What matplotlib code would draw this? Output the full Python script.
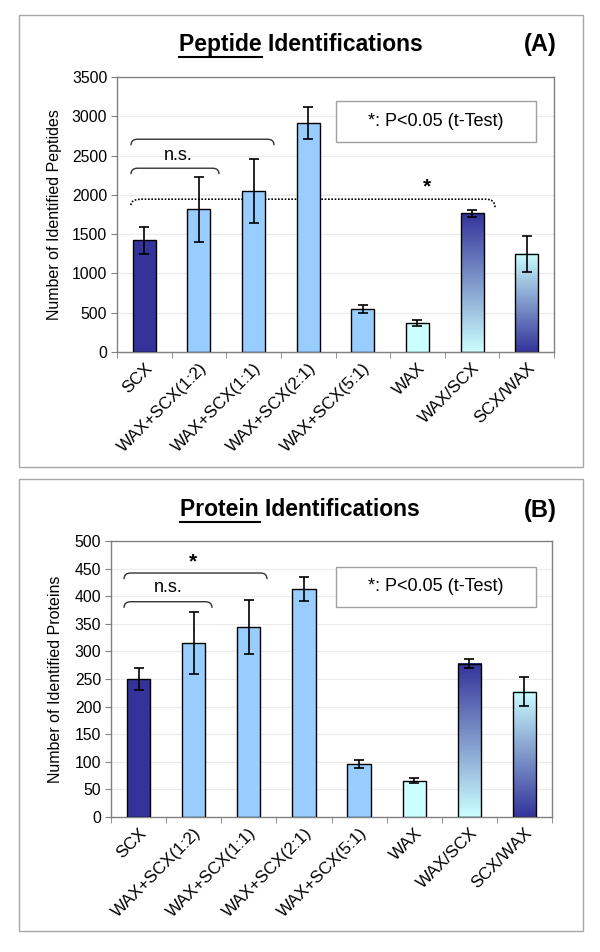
import numpy as np
import matplotlib
matplotlib.use("Agg")
import matplotlib.pyplot as plt
from matplotlib.colors import LinearSegmentedColormap
from matplotlib.path import Path
from matplotlib.patches import PathPatch, Rectangle

plt.rcParams['font.family'] = ['Liberation Sans', 'DejaVu Sans']

categories = ["SCX", "WAX+SCX(1:2)", "WAX+SCX(1:1)", "WAX+SCX(2:1)",
              "WAX+SCX(5:1)", "WAX", "WAX/SCX", "SCX/WAX"]
peptide_means = [1420, 1815, 2045, 2915, 545, 375, 1765, 1250]
peptide_err = [170, 410, 405, 205, 48, 38, 47, 230]
protein_means = [250, 315, 345, 413, 96, 66, 278, 227]
protein_err = [20, 56, 49, 21, 7, 5, 8, 26]
peptide_ticks = [0, 500, 1000, 1500, 2000, 2500, 3000, 3500]
protein_ticks = [0, 50, 100, 150, 200, 250, 300, 350, 400, 450, 500]
# fill style per category: solid colour or gradient
fills = ["#333399", "#99CCFF", "#99CCFF", "#99CCFF", "#99CCFF", "#CCFFFF", "grad_dark_top", "grad_dark_bottom"]

DARK = "#333399"
LIGHT = "#CCFFFF"
GRAY = "#808080"

fig = plt.figure(figsize=(6.0, 9.52), dpi=100)
W, H = 600, 952


def frame(x0, y0, x1, y1):
    r = Rectangle((x0 / W, 1 - y1 / H), (x1 - x0) / W, (y1 - y0) / H,
                  transform=fig.transFigure, fill=False, edgecolor="#A8A8A8", lw=1.0)
    fig.add_artist(r)


frame(19, 15, 583, 467)
frame(19, 479, 583, 931)


def bracket(ax, x0, x1, ytop, yend):
    dx = 0.12
    verts = [(x0, yend), (x0, ytop), (x0 + dx, ytop),
             (x1 - dx, ytop),
             (x1, ytop), (x1, yend)]
    codes = [Path.MOVETO, Path.CURVE3, Path.CURVE3, Path.LINETO, Path.CURVE3, Path.CURVE3]
    ax.add_patch(PathPatch(Path(verts, codes), fill=False, edgecolor="#333333", lw=1.0))


def draw_panel(ax, means, errs, ticks, ylabel):
    x = np.arange(len(categories))
    w = 0.42
    ax.set_axisbelow(True)
    ax.yaxis.grid(True, color="#EBEBEB", lw=0.8)
    for i, (m, f) in enumerate(zip(means, fills)):
        if f.startswith("grad"):
            cmap = LinearSegmentedColormap.from_list("g", [LIGHT, DARK])
            grad = np.linspace(0, 1, 256).reshape(-1, 1)
            if f == "grad_dark_bottom":
                grad = grad[::-1]
            ax.imshow(grad, extent=[x[i] - w / 2, x[i] + w / 2, 0, m], origin="lower",
                      cmap=cmap, aspect="auto", zorder=2)
            ax.bar(x[i], m, width=w, facecolor="none", edgecolor="black", lw=1.0, zorder=3)
        else:
            ax.bar(x[i], m, width=w, facecolor=f, edgecolor="black", lw=1.0, zorder=3)
    ax.errorbar(x, means, yerr=errs, fmt="none", ecolor="black", elinewidth=1.2,
                capsize=3.6, capthick=1.2, zorder=4)
    ax.set_xlim(-0.5, len(categories) - 0.5)
    ax.set_ylim(ticks[0], ticks[-1])
    ax.set_yticks(ticks)
    ax.set_xticks(x)
    ax.set_xticklabels(categories, rotation=45, ha="right", va="top",
                       rotation_mode="anchor", fontsize=12.3)
    ax.tick_params(axis="x", length=0, pad=6)
    ax.set_xticks(np.arange(len(categories) + 1) - 0.5, minor=True)
    ax.tick_params(axis="x", which="minor", length=4, color=GRAY)
    ax.tick_params(axis="y", length=4, color=GRAY, labelsize=11.3, pad=3)
    for s in ax.spines.values():
        s.set_color(GRAY)
        s.set_linewidth(1.0)
    ax.set_ylabel(ylabel, fontsize=11.5)


# ---------------- Panel A ----------------
axA = fig.add_axes([117 / W, 1 - 352 / H, 437 / W, 275 / H])
draw_panel(axA, peptide_means, peptide_err, peptide_ticks, "Number of Identified Peptides")
axA.yaxis.set_label_coords(-0.126, 0.5)
bracket(axA, -0.244, 2.375, 2708, 2631)
bracket(axA, -0.244, 1.368, 2339, 2263)
axA.text(0.62, 2504, "n.s.", fontsize=13, ha="center", va="center")
verts = [(-0.244, 1869), (-0.244, 1945), (-0.05, 1945), (6.25, 1945), (6.42, 1945), (6.42, 1843)]
codes = [Path.MOVETO, Path.CURVE3, Path.CURVE3, Path.LINETO, Path.CURVE3, Path.CURVE3]
axA.add_patch(PathPatch(Path(verts, codes), fill=False, edgecolor="black", lw=1.2,
                        linestyle=(0, (1, 1))))
axA.text(5.18, 2097, "*", fontsize=15, fontweight="bold", ha="center", va="center")
axA.add_patch(Rectangle((0.501, 0.764), 0.458, 0.149, transform=axA.transAxes,
                        facecolor="white", edgecolor="#A0A0A0", lw=1.0, zorder=5))
axA.text(0.73, 0.8385, "*: P<0.05 (t-Test)", transform=axA.transAxes, fontsize=13,
         ha="center", va="center", zorder=6)
fig.text(179 / W, 1 - 45 / H, "Peptide Identifications", fontsize=16.5,
         fontweight="bold", ha="left", va="center")
fig.text(540 / W, 1 - 45 / H, "(A)", fontsize=17, fontweight="bold", ha="center", va="center")
fig.add_artist(plt.Line2D([179 / W, 262 / W], [1 - 57 / H, 1 - 57 / H],
                          transform=fig.transFigure, color="black", lw=1.5))

# ---------------- Panel B ----------------
axB = fig.add_axes([111 / W, 1 - 817 / H, 441 / W, 276 / H])
draw_panel(axB, protein_means, protein_err, protein_ticks, "Number of Identified Proteins")
axB.yaxis.set_label_coords(-0.109, 0.5)
bracket(axB, -0.264, 2.33, 442, 431)
bracket(axB, -0.264, 1.333, 390, 379)
axB.text(0.99, 462, "*", fontsize=15, fontweight="bold", ha="center", va="center")
axB.text(0.534, 415, "n.s.", fontsize=13, ha="center", va="center")
axB.add_patch(Rectangle((0.510, 0.761), 0.454, 0.145, transform=axB.transAxes,
                        facecolor="white", edgecolor="#A0A0A0", lw=1.0, zorder=5))
axB.text(0.737, 0.8335, "*: P<0.05 (t-Test)", transform=axB.transAxes, fontsize=13,
         ha="center", va="center", zorder=6)
fig.text(180 / W, 1 - 510 / H, "Protein Identifications", fontsize=16.5,
         fontweight="bold", ha="left", va="center")
fig.text(540 / W, 1 - 510 / H, "(B)", fontsize=17, fontweight="bold", ha="center", va="center")
fig.add_artist(plt.Line2D([180 / W, 260 / W], [1 - 522 / H, 1 - 522 / H],
                          transform=fig.transFigure, color="black", lw=1.5))

fig.savefig("out.png", dpi=100)
